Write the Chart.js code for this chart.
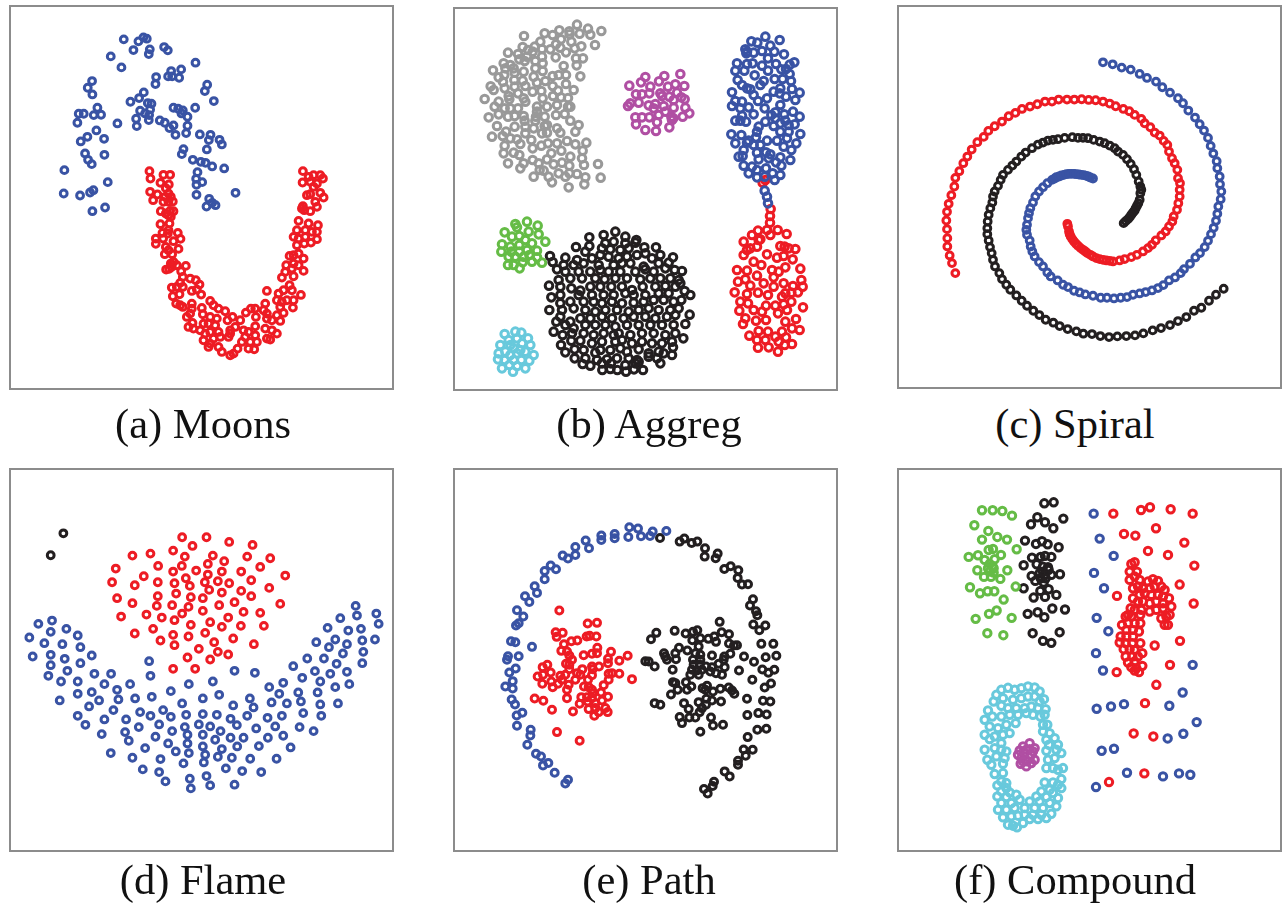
<!DOCTYPE html>
<html>
<head>
<meta charset="utf-8">
<title>Clustering data sets</title>
<script src="https://cdn.jsdelivr.net/npm/chart.js@4"></script>
<style>
  html, body { margin: 0; padding: 0; background: #fff; }
  body { position: relative; width: 1286px; height: 904px; overflow: hidden; }
  canvas { position: absolute; }
  .frame { position: absolute; box-sizing: border-box; border: 2px solid #8c8c8c; }
  .caption {
    position: absolute; width: 400px; margin-left: -200px; text-align: center;
    font-family: "Liberation Serif", serif; font-size: 42.5px; line-height: 50px; color: #111;
  }
</style>
</head>
<body>
<script>
// colours of the clusters
const BLUE = "#3953a4", RED = "#ed1c24", BLACK = "#231f20", GRAY = "#999999";
const PURPLE = "#b04fa3", GREEN = "#65bc46", CYAN = "#68c9dc";

// all points are [x, y], 3x pixels
const moonsBlue = [[371,118],[415,124],[430,112],[440,116],[400,150],[449,148],[446,162],[492,141],[503,151],[332,169],[364,202],[586,188],[513,213],[543,208],[504,229],[516,229],[537,233],[468,231],[466,252],[276,243],[263,263],[277,283],[621,254],[614,273],[641,303],[431,277],[417,294],[391,305],[443,309],[454,311],[292,323],[236,341],[251,341],[281,345],[303,344],[232,368],[352,370],[420,332],[435,340],[450,328],[447,345],[408,356],[446,360],[410,378],[520,323],[534,326],[548,331],[544,340],[562,350],[585,323],[479,361],[494,368],[520,376],[508,384],[526,404],[562,377],[558,399],[599,403],[631,404],[626,420],[658,419],[665,433],[620,448],[289,391],[262,410],[242,424],[312,416],[255,460],[313,464],[264,479],[275,492],[550,447],[545,462],[578,479],[602,485],[616,488],[636,499],[672,505],[193,510],[592,516],[588,536],[606,546],[589,554],[323,546],[280,570],[270,577],[191,580],[240,586],[589,584],[706,578],[627,596],[636,608],[646,615],[619,619],[315,622],[277,633]];
const moonsRed = [[448,513],[451,535],[490,524],[510,524],[481,548],[506,553],[497,564],[450,575],[472,583],[459,600],[505,580],[495,590],[512,590],[490,605],[505,605],[518,604],[482,633],[497,640],[510,632],[520,633],[512,650],[505,645],[481,672],[508,670],[505,690],[487,698],[533,698],[503,700],[467,715],[489,715],[541,716],[520,723],[467,731],[497,740],[535,746],[505,750],[494,762],[516,762],[520,785],[512,790],[530,795],[557,797],[498,808],[507,806],[515,800],[543,813],[548,830],[570,835],[587,840],[540,848],[598,853],[515,862],[530,860],[548,860],[590,868],[575,872],[538,882],[518,888],[603,883],[528,910],[540,915],[548,920],[575,910],[630,902],[605,923],[575,925],[640,915],[655,925],[675,933],[570,940],[608,942],[560,950],[630,950],[650,955],[697,950],[682,960],[577,968],[565,980],[580,985],[610,970],[625,970],[645,975],[720,960],[737,937],[752,925],[705,980],[690,990],[600,990],[615,1000],[630,995],[655,995],[730,990],[745,995],[765,978],[610,1020],[625,1040],[640,1015],[660,1010],[685,1010],[690,1000],[735,1010],[765,1005],[725,1025],[750,1025],[770,1025],[630,1030],[655,1040],[665,1055],[745,1045],[762,1047],[690,1065],[700,1060],[712,1045],[800,1015],[810,1018],[795,985],[815,990],[830,1000],[767,950],[790,930],[795,910],[765,925],[800,940],[830,945],[850,938],[815,960],[840,962],[800,955],[800,872],[835,880],[850,870],[868,855],[875,870],[830,900],[845,905],[860,900],[840,920],[880,900],[878,922],[902,884],[845,832],[858,795],[880,790],[855,815],[875,805],[868,767],[880,765],[895,760],[910,775],[895,795],[880,828],[910,812],[890,735],[880,710],[895,715],[890,690],[895,662],[925,670],[953,675],[915,690],[935,695],[950,695],[915,710],[950,717],[932,727],[912,730],[908,618],[912,630],[930,633],[905,625],[950,620],[945,605],[960,578],[970,592],[920,585],[930,582],[908,513],[925,530],[940,525],[960,525],[968,535],[907,547],[930,545],[950,550],[940,560]];

const aggregGray = [[395,74],[428,86],[468,93],[342,91],[298,100],[236,108],[322,105],[372,94],[373,103],[403,101],[435,104],[347,118],[285,125],[232,141],[378,125],[332,133],[449,135],[408,139],[268,140],[248,150],[290,147],[315,148],[345,143],[388,145],[188,158],[218,162],[262,155],[362,157],[245,170],[290,170],[331,172],[392,175],[413,175],[222,178],[270,183],[238,183],[175,190],[195,195],[355,198],[394,196],[292,190],[270,205],[180,205],[205,205],[143,211],[292,213],[235,215],[160,232],[208,218],[177,225],[265,230],[322,228],[340,225],[405,229],[362,225],[232,242],[207,240],[173,245],[275,248],[300,243],[362,252],[136,259],[145,270],[178,265],[208,260],[240,258],[322,258],[385,270],[262,275],[288,273],[338,272],[218,280],[190,288],[235,295],[323,288],[347,292],[368,294],[118,297],[192,298],[292,295],[160,305],[240,305],[368,320],[148,320],[335,315],[305,320],[275,320],[178,325],[195,325],[218,325],[375,320],[275,335],[160,343],[130,352],[188,350],[208,348],[235,348],[272,350],[298,350],[332,345],[358,342],[270,362],[238,362],[375,362],[155,378],[208,380],[305,375],[240,380],[265,385],[298,378],[335,385],[400,375],[182,395],[172,408],[240,400],[290,400],[305,398],[345,398],[390,395],[140,410],[195,415],[258,420],[215,418],[225,432],[178,437],[288,437],[308,430],[335,430],[365,423],[390,433],[423,428],[262,445],[348,452],[412,452],[175,460],[205,458],[222,465],[318,460],[375,470],[262,480],[305,478],[410,475],[188,490],[235,490],[225,505],[280,490],[325,493],[350,488],[372,497],[416,495],[458,492],[283,510],[295,512],[265,530],[310,530],[340,520],[372,520],[395,522],[420,532],[466,533],[320,547],[370,562],[417,553],[360,530]];
const aggregPurple = [[705,222],[600,231],[657,228],[552,257],[587,247],[641,244],[690,253],[717,258],[615,260],[668,260],[612,280],[645,280],[695,278],[572,283],[590,283],[650,288],[672,290],[708,292],[718,298],[555,310],[548,318],[580,308],[610,316],[630,312],[655,318],[685,300],[720,323],[625,325],[685,323],[660,335],[732,340],[570,352],[590,352],[612,352],[640,345],[678,350],[684,355],[712,350],[572,373],[635,367],[680,360],[672,382],[600,390],[632,393]];
const aggregBlue = [[960,110],[1003,120],[918,124],[936,128],[975,137],[900,148],[905,155],[950,153],[987,155],[925,158],[1016,163],[903,160],[968,175],[1047,187],[1033,194],[875,190],[905,192],[922,190],[950,197],[992,192],[1022,207],[870,212],[897,212],[968,212],[1008,208],[928,226],[1033,222],[877,240],[988,237],[1012,237],[1037,243],[955,243],[890,255],[945,255],[905,265],[915,268],[860,277],[1005,265],[985,275],[1040,267],[1063,278],[925,285],[1003,280],[965,295],[1022,290],[870,303],[890,305],[938,303],[1050,300],[1005,315],[885,325],[910,322],[958,325],[1043,335],[860,318],[990,337],[1017,343],[890,347],[925,343],[978,345],[870,362],[885,362],[902,365],[1063,350],[960,365],[990,355],[1020,362],[940,380],[1005,370],[1030,375],[1048,373],[985,378],[858,403],[888,405],[935,395],[1005,395],[1065,402],[1030,395],[932,412],[1025,415],[910,422],[965,422],[995,422],[870,430],[905,428],[925,435],[945,435],[1053,430],[1015,440],[895,450],[1038,450],[880,470],[892,468],[935,458],[962,457],[975,463],[1005,472],[1035,480],[940,478],[970,475],[895,497],[920,500],[962,505],[992,487],[1008,497],[910,520],[935,510],[982,520],[1005,525],[935,532],[988,540],[958,530],[958,572],[965,590],[968,610]];
const aggregRed = [[960,540],[952,548],[976,627],[974,648],[974,668],[965,690],[938,692],[997,690],[1024,702],[920,705],[945,718],[975,705],[895,725],[940,720],[1005,738],[1018,740],[1030,745],[1050,747],[915,745],[905,750],[935,740],[895,765],[965,763],[1015,768],[995,773],[1042,778],[925,785],[948,795],[875,810],[905,812],[1020,802],[1065,806],[980,810],[1000,815],[935,827],[985,832],[878,845],[1068,840],[900,838],[955,850],[1015,850],[915,857],[1072,860],[985,860],[1043,858],[868,877],[905,882],[938,878],[968,885],[1020,880],[1038,878],[1058,877],[1010,890],[885,905],[908,910],[1038,905],[1015,913],[962,917],[990,917],[1073,922],[1025,930],[882,932],[925,930],[950,935],[998,940],[900,955],[932,962],[962,960],[1052,957],[1020,965],[893,972],[1040,985],[1063,990],[940,993],[968,995],[912,1007],[1010,995],[990,1010],[1022,1012],[935,1020],[960,1020],[1000,1025],[1040,1032],[938,1043],[970,1042],[1018,1035],[998,1055]];
const aggregBlack = [[510,695],[432,712],[475,705],[540,710],[573,720],[432,738],[392,741],[480,730],[505,725],[540,730],[570,728],[597,742],[632,742],[420,755],[470,745],[495,748],[525,750],[550,745],[600,760],[645,765],[683,772],[314,768],[360,773],[395,780],[440,775],[465,765],[490,770],[520,775],[545,770],[575,765],[620,775],[322,786],[355,795],[385,795],[415,790],[460,795],[505,795],[530,790],[555,790],[595,800],[640,790],[670,788],[335,808],[360,815],[400,815],[435,815],[465,810],[490,815],[525,815],[570,815],[600,808],[625,815],[660,805],[688,810],[710,813],[340,840],[375,835],[410,835],[450,835],[478,838],[510,835],[545,835],[585,838],[615,835],[645,835],[675,835],[700,840],[311,857],[345,860],[378,865],[405,872],[435,860],[465,860],[498,860],[530,860],[560,870],[592,860],[630,860],[660,858],[690,860],[705,850],[345,885],[400,885],[440,885],[475,885],[505,885],[540,880],[565,885],[600,885],[640,880],[670,880],[718,873],[735,885],[318,892],[345,910],[375,905],[415,905],[445,905],[470,910],[500,905],[530,910],[565,908],[595,905],[625,900],[655,900],[685,905],[708,900],[312,930],[350,930],[385,925],[420,930],[450,935],[480,930],[515,930],[550,935],[580,930],[610,925],[640,930],[675,930],[700,925],[345,950],[375,965],[405,955],[435,955],[470,950],[500,955],[535,955],[565,950],[600,950],[630,955],[665,950],[690,945],[733,944],[333,965],[360,975],[385,985],[420,975],[450,975],[480,975],[510,980],[545,975],[580,975],[615,975],[650,975],[685,975],[720,972],[325,995],[352,1005],[380,1000],[415,1000],[445,1005],[475,1000],[505,1005],[520,1000],[555,1005],[590,1000],[625,1000],[660,1005],[690,1000],[714,1015],[378,1022],[405,1022],[440,1030],[470,1025],[510,1025],[530,1020],[560,1030],[590,1025],[620,1030],[650,1030],[680,1025],[347,1035],[360,1057],[388,1048],[415,1050],[450,1058],[465,1050],[495,1050],[525,1045],[545,1055],[580,1048],[610,1060],[640,1055],[655,1060],[683,1042],[680,1065],[388,1075],[420,1075],[455,1080],[485,1078],[515,1075],[550,1075],[575,1080],[610,1070],[635,1075],[412,1092],[435,1097],[470,1090],[497,1090],[540,1095],[570,1090],[580,1085],[645,1090],[471,1110],[495,1107],[516,1110],[542,1115],[566,1108],[593,1110]];
const aggregGreen = [[245,665],[210,672],[215,682],[277,677],[178,697],[250,695],[222,708],[200,710],[280,703],[240,720],[300,725],[170,733],[195,740],[222,735],[260,730],[168,755],[198,755],[222,755],[245,750],[275,752],[190,770],[210,770],[235,770],[252,765],[275,772],[188,795],[205,795],[232,787],[260,785],[290,788],[223,805]];
const aggregCyan = [[210,995],[178,1002],[228,998],[248,1015],[190,1020],[215,1015],[165,1035],[195,1035],[230,1030],[255,1035],[205,1045],[225,1050],[160,1060],[180,1055],[240,1055],[265,1065],[195,1065],[215,1060],[158,1078],[178,1080],[205,1080],[228,1080],[252,1082],[192,1095],[170,1105],[240,1105],[215,1098],[203,1115]];

const spiralBlue = [[650,187],[679,193],[706,203],[733,209],[760,222],[782,234],[809,245],[828,262],[851,278],[875,295],[890,310],[906,332],[926,353],[940,373],[953,392],[965,414],[973,438],[981,461],[991,484],[993,505],[1000,530],[1001,553],[1005,575],[1003,598],[996,620],[993,642],[989,663],[982,684],[974,703],[965,723],[955,742],[941,760],[927,773],[911,792],[893,808],[883,820],[866,833],[848,842],[831,856],[815,865],[797,872],[778,877],[760,881],[740,885],[722,892],[703,894],[683,896],[662,894],[643,894],[620,888],[597,884],[580,878],[563,873],[545,862],[530,855],[514,842],[493,830],[483,818],[470,800],[458,787],[445,770],[438,755],[433,740],[430,722],[422,705],[420,690],[422,675],[425,655],[428,640],[432,625],[440,608],[447,590],[458,575],[470,562],[483,550],[497,540],[505,536],[510,532],[518,530],[525,527],[533,525],[540,523],[548,522],[555,522],[563,522],[570,523],[578,524],[585,525],[593,526],[600,528],[606,530],[612,533],[620,536]];
const spiralRed = [[207,820],[197,790],[190,767],[183,740],[183,715],[182,688],[180,662],[182,636],[187,612],[195,586],[204,560],[207,534],[219,514],[231,490],[243,470],[256,449],[273,427],[292,411],[306,393],[325,379],[347,365],[367,349],[387,339],[407,327],[431,320],[453,313],[476,305],[497,305],[517,299],[542,299],[564,299],[586,298],[607,300],[628,301],[650,305],[670,311],[688,319],[711,327],[729,334],[745,345],[765,357],[775,370],[792,382],[805,398],[820,407],[832,423],[843,435],[848,455],[857,475],[865,490],[873,510],[875,535],[881,550],[880,570],[880,590],[876,610],[872,630],[862,650],[858,665],[848,680],[838,695],[825,707],[808,722],[797,735],[785,745],[770,755],[752,765],[735,772],[715,778],[700,782],[680,785],[670,783],[660,782],[650,780],[640,778],[630,775],[620,770],[612,765],[603,760],[597,755],[590,750],[583,745],[575,738],[569,732],[563,725],[558,718],[553,710],[550,703],[548,695],[545,680],[543,672]];
const spiralBlack = [[1012,867],[989,885],[968,903],[945,924],[923,933],[900,952],[875,964],[851,976],[824,985],[799,992],[771,1001],[746,1007],[720,1009],[693,1010],[668,1012],[642,1009],[617,1003],[591,1002],[570,995],[544,988],[520,979],[501,969],[478,960],[459,946],[441,933],[422,918],[406,903],[390,887],[372,870],[360,855],[347,838],[339,820],[326,800],[320,780],[316,760],[311,742],[307,722],[303,703],[303,685],[304,665],[307,645],[312,625],[318,608],[320,590],[325,575],[335,558],[343,540],[350,525],[365,510],[378,497],[390,485],[405,470],[418,458],[437,445],[455,434],[470,428],[485,422],[500,420],[515,418],[535,414],[558,412],[575,414],[590,414],[605,415],[622,420],[640,425],[655,430],[670,437],[685,445],[695,455],[710,465],[722,478],[733,492],[743,508],[750,525],[757,545],[762,560],[765,570],[762,580],[760,600],[756,610],[752,618],[748,625],[745,632],[740,638],[735,645],[730,652],[725,658],[718,664],[712,670]];

const flameRed = [[546,232],[619,232],[687,246],[757,255],[577,258],[519,272],[451,281],[397,287],[554,290],[638,287],[741,290],[810,295],[672,304],[474,318],[545,318],[623,312],[780,321],[347,326],[519,335],[588,332],[665,335],[723,335],[623,344],[431,349],[855,347],[557,355],[753,361],[336,367],[404,376],[473,367],[523,370],[614,367],[653,364],[687,370],[569,378],[807,384],[627,390],[723,393],[528,401],[665,398],[473,409],[572,412],[608,415],[753,409],[351,415],[397,430],[516,436],[470,438],[565,441],[657,436],[703,427],[840,432],[608,453],[730,456],[780,459],[546,461],[363,470],[439,464],[485,473],[523,481],[684,473],[630,487],[572,495],[665,501],[722,498],[791,498],[459,507],[404,521],[519,525],[565,530],[615,519],[699,536],[481,542],[523,556],[642,547],[761,553],[596,567],[653,576],[684,584],[562,593],[630,599],[519,627],[585,627]];
const flameBlue = [[156,482],[115,492],[199,507],[152,516],[233,527],[88,533],[133,550],[187,553],[241,562],[152,585],[98,590],[194,597],[275,587],[241,610],[152,616],[202,633],[145,648],[283,642],[333,642],[183,665],[233,665],[313,673],[390,673],[275,697],[351,690],[233,702],[179,722],[297,722],[355,719],[405,716],[455,711],[267,740],[340,751],[233,768],[313,779],[378,779],[420,757],[451,768],[256,795],[305,823],[375,817],[416,802],[477,794],[386,843],[466,831],[332,880],[435,865],[397,894],[428,929],[481,898],[477,937],[496,965],[504,851],[527,875],[550,911],[569,957],[572,986],[489,751],[512,771],[512,694],[447,604],[451,648],[566,673],[638,665],[703,633],[764,639],[546,731],[608,716],[657,705],[558,765],[608,763],[650,765],[699,737],[749,716],[760,743],[691,777],[741,768],[554,802],[596,794],[630,800],[710,796],[516,814],[562,825],[608,825],[661,814],[645,840],[691,834],[730,834],[768,806],[802,774],[845,768],[825,800],[803,834],[849,828],[562,851],[608,860],[665,868],[711,860],[776,859],[566,880],[615,885],[653,891],[695,894],[750,897],[611,908],[677,926],[726,934],[783,937],[619,949],[630,977],[703,975],[829,897],[871,863],[898,802],[940,814],[963,768],[909,760],[860,731],[814,728],[902,725],[837,702],[807,682],[849,669],[894,698],[906,654],[952,698],[960,734],[1013,731],[960,665],[944,634],[879,619],[921,596],[971,596],[1009,612],[990,642],[1040,636],[1005,682],[1047,673],[1086,610],[1089,576],[1028,581],[986,562],[948,547],[1005,539],[1040,553],[1086,542],[1124,539],[982,504],[1044,512],[1082,507],[1020,475],[1070,467],[1066,438],[1128,461],[1135,492]];
const flameBlack = [[190,220],[152,286]];

const pathBlue = [[663,213],[622,215],[578,206],[552,202],[614,228],[587,229],[549,231],[508,222],[508,235],[468,227],[468,240],[421,242],[431,265],[390,261],[390,285],[352,287],[368,296],[316,317],[298,333],[332,328],[298,358],[268,379],[275,399],[239,409],[252,426],[215,451],[234,470],[220,490],[212,497],[197,544],[210,547],[260,561],[188,589],[185,600],[220,589],[192,638],[211,626],[202,664],[180,680],[202,686],[199,719],[209,734],[231,759],[214,767],[215,798],[256,810],[255,827],[246,855],[272,882],[287,890],[309,910],[293,917],[328,939],[368,960],[360,971]];
const pathRed = [[342,452],[427,491],[455,489],[331,517],[352,519],[334,531],[424,530],[433,528],[453,530],[378,544],[396,542],[356,553],[456,564],[348,573],[365,575],[372,587],[415,586],[440,582],[455,580],[497,576],[547,588],[488,597],[522,603],[380,600],[362,612],[372,615],[488,610],[292,622],[306,615],[440,620],[461,620],[372,628],[411,628],[442,628],[277,650],[293,645],[316,638],[345,648],[360,645],[395,640],[405,645],[490,642],[500,640],[522,642],[560,658],[440,646],[318,665],[350,660],[390,660],[428,660],[490,660],[291,672],[338,672],[322,682],[370,675],[365,690],[416,680],[430,682],[475,676],[440,690],[443,700],[467,698],[365,715],[268,716],[294,723],[408,712],[425,712],[440,715],[488,711],[320,750],[383,755],[403,732],[427,725],[450,730],[470,722],[430,748],[450,745],[480,745],[447,768],[460,757],[487,757],[335,817],[403,843]];
const pathBlack = [[644,234],[717,236],[703,245],[739,249],[756,245],[779,265],[817,281],[778,290],[811,295],[856,319],[837,327],[879,331],[877,354],[890,374],[908,373],[923,418],[914,437],[932,454],[936,466],[924,494],[960,497],[942,511],[948,552],[984,552],[993,588],[961,592],[926,606],[896,590],[881,632],[951,629],[969,639],[987,630],[921,660],[977,671],[958,683],[953,723],[975,725],[905,717],[906,766],[939,760],[964,764],[936,810],[963,807],[907,832],[922,870],[895,869],[901,888],[878,903],[878,915],[838,935],[853,950],[806,966],[802,979],[776,988],[787,1001],[823,486],[688,513],[721,521],[633,519],[617,538],[743,516],[756,511],[829,517],[851,523],[765,535],[741,541],[789,537],[807,530],[812,546],[851,551],[866,557],[875,556],[760,560],[701,564],[726,572],[656,580],[690,580],[660,590],[750,580],[765,585],[800,587],[855,582],[837,590],[665,600],[692,598],[743,600],[765,600],[835,600],[600,604],[610,605],[628,620],[820,612],[745,615],[763,615],[782,620],[800,622],[838,622],[682,630],[740,630],[755,632],[770,630],[795,635],[812,640],[830,645],[735,645],[760,645],[683,667],[690,670],[722,667],[738,680],[772,685],[785,678],[697,690],[725,690],[780,690],[803,695],[825,687],[850,683],[860,692],[867,702],[677,704],[716,730],[760,727],[783,717],[800,722],[827,725],[782,735],[628,730],[645,735],[730,748],[770,745],[763,757],[703,772],[732,773],[750,773],[797,773],[710,790],[803,797],[833,795],[765,816]];

const compoundGreen = [[287,151],[319,151],[348,153],[377,167],[264,196],[306,213],[333,231],[287,239],[362,239],[391,268],[307,270],[320,267],[247,291],[275,286],[344,285],[295,300],[325,298],[310,312],[318,318],[305,325],[322,325],[273,331],[363,331],[310,335],[322,338],[293,351],[314,351],[342,357],[251,382],[388,380],[281,400],[304,394],[324,394],[352,419],[331,452],[308,462],[268,477],[376,474],[303,520],[351,526]];
const compoundBlack = [[474,130],[502,127],[453,172],[531,176],[434,193],[476,187],[501,205],[416,242],[467,244],[449,252],[484,253],[517,262],[437,293],[463,291],[476,288],[495,291],[412,316],[451,313],[470,320],[485,322],[470,335],[487,330],[460,340],[475,345],[495,345],[436,348],[521,343],[463,355],[478,355],[447,363],[472,368],[412,385],[462,393],[487,388],[510,405],[442,413],[476,411],[498,446],[536,449],[424,462],[454,457],[474,472],[520,517],[439,520],[470,543],[495,549]];
const compoundBlue = [[622,161],[640,236],[682,288],[623,339],[653,385],[631,474],[666,514],[629,580],[650,632],[919,615],[889,698],[849,738],[713,733],[674,740],[631,747],[931,787],[891,822],[844,836],[683,867],[646,873],[722,939],[878,941],[912,945],[830,950],[629,982]];
const compoundRed = [[681,161],[764,150],[791,142],[853,148],[919,161],[809,205],[713,222],[747,227],[894,248],[785,273],[845,285],[924,317],[880,374],[692,408],[922,431],[881,543],[805,557],[851,615],[691,637],[810,675],[776,730],[742,821],[801,830],[774,941],[668,967],[745,307],[735,312],[752,335],[730,335],[745,350],[730,360],[760,360],[800,358],[815,363],[785,365],[740,385],[755,380],[770,385],[790,385],[805,380],[825,380],[835,390],[740,415],[760,405],[775,400],[795,405],[815,405],[830,410],[848,415],[733,445],[755,425],[770,425],[790,430],[810,425],[830,430],[855,440],[725,465],[745,450],[765,450],[790,455],[810,450],[830,445],[850,465],[718,470],[735,470],[762,465],[825,475],[840,470],[707,495],[725,490],[745,490],[762,490],[835,495],[845,495],[720,510],[740,510],[758,515],[703,530],[720,530],[740,530],[762,550],[700,548],[718,550],[738,550],[712,568],[730,568],[745,570],[768,580],[718,590],[738,590],[755,590],[725,608],[745,605],[768,618],[735,622],[750,625],[758,637],[745,632]];
const compoundCyan = [[365,684],[345,690],[385,690],[405,685],[425,680],[445,683],[460,695],[473,718],[330,705],[350,715],[380,720],[405,715],[425,710],[445,710],[460,725],[478,748],[322,725],[345,738],[365,745],[390,745],[415,745],[435,740],[455,745],[475,765],[305,752],[295,780],[318,770],[345,770],[370,765],[395,765],[420,760],[440,765],[462,770],[470,795],[483,795],[310,800],[335,805],[360,795],[388,790],[295,825],[325,830],[350,825],[370,820],[310,838],[345,850],[470,815],[490,820],[480,840],[505,835],[488,855],[515,855],[295,870],[325,865],[345,870],[360,875],[480,873],[510,870],[525,880],[303,900],[330,890],[355,895],[485,900],[505,895],[315,915],[350,912],[480,925],[500,925],[530,925],[515,930],[325,943],[350,940],[345,965],[360,970],[475,968],[500,968],[525,958],[515,975],[333,977],[360,985],[490,990],[525,985],[345,995],[370,998],[465,995],[500,1000],[333,1010],[360,1012],[390,1005],[450,1010],[480,1012],[515,1015],[345,1030],[375,1030],[400,1020],[430,1025],[460,1025],[490,1030],[335,1050],[360,1050],[385,1045],[415,1045],[445,1045],[470,1045],[510,1040],[350,1073],[375,1070],[395,1068],[415,1065],[440,1065],[465,1065],[495,1062],[365,1095],[380,1098],[392,1103],[410,1090],[430,1078],[455,1078],[480,1075]];
const compoundPurple = [[430,850],[410,860],[445,865],[395,885],[420,870],[435,885],[405,895],[445,900],[420,905],[403,912],[420,920],[435,910],[415,880],[430,868],[400,872],[440,875],[410,905]];

// one entry per panel: page offset of the frame and its range in 3x pixels
const panels = [
  { caption: "(a) Moons", left: 10, top: 6, w: 383, h: 383, xr: [30, 1178], yr: [18, 1166], cx: 203, cy: 425, ring: [3.4, 3],
    series: [[moonsBlue, BLUE], [moonsRed, RED]] },
  { caption: "(b) Aggreg", left: 453.7, top: 8, w: 383, h: 382, xr: [26, 1175], yr: [24, 1170], cx: 649, cy: 425, ring: [3.8, 3],
    series: [[aggregGray, GRAY], [aggregPurple, PURPLE], [aggregBlue, BLUE], [aggregRed, RED], [aggregBlack, BLACK], [aggregGreen, GREEN], [aggregCyan, CYAN]] },
  { caption: "(c) Spiral", left: 897.7, top: 6, w: 383, h: 382, xr: [35, 1184], yr: [18, 1165], cx: 1075, cy: 425, ring: [3.4, 3],
    series: [[spiralBlue, BLUE], [spiralRed, RED], [spiralBlack, BLACK]] },
  { caption: "(d) Flame", left: 10, top: 469, w: 383, h: 382, xr: [30, 1178], yr: [27, 1174], cx: 203, cy: 881, ring: [3.4, 3],
    series: [[flameRed, RED], [flameBlue, BLUE], [flameBlack, BLACK]] },
  { caption: "(e) Path", left: 453.7, top: 469, w: 383, h: 382, xr: [26, 1175], yr: [27, 1174], cx: 649, cy: 881, ring: [3.5, 3],
    series: [[pathBlue, BLUE], [pathRed, RED], [pathBlack, BLACK]] },
  { caption: "(f) Compound", left: 897.7, top: 469, w: 383, h: 382, xr: [35, 1184], yr: [27, 1174], cx: 1075, cy: 881, ring: [3.7, 3],
    series: [[compoundGreen, GREEN], [compoundBlack, BLACK], [compoundBlue, BLUE], [compoundRed, RED], [compoundCyan, CYAN], [compoundPurple, PURPLE]] }
];

panels.forEach((p) => {
  const canvas = document.createElement("canvas");
  canvas.width = p.w;
  canvas.height = p.h;
  canvas.style.left = p.left + "px";
  canvas.style.top = p.top + "px";
  document.body.appendChild(canvas);

  new Chart(canvas.getContext("2d"), {
    type: "scatter",
    data: {
      datasets: p.series.map(([points, colour]) => ({
        data: points.map(([x, y]) => ({ x, y })),
        borderColor: colour,
        backgroundColor: "transparent",
        borderWidth: p.ring[1],
        pointRadius: p.ring[0],
      })),
    },
    options: {
      responsive: false,
      animation: false,
      layout: { padding: 0, autoPadding: false },
      plugins: { legend: { display: false }, tooltip: { enabled: false } },
      scales: {
        x: { type: "linear", display: false, min: p.xr[0], max: p.xr[1] },
        y: { type: "linear", display: false, min: p.yr[0], max: p.yr[1], reverse: true },
      },
    },
  });

  // the frame line sits centred on the panel edge
  const frame = document.createElement("div");
  frame.className = "frame";
  frame.style.cssText = `left:${p.left - 1}px;top:${p.top - 1}px;width:${p.w + 2}px;height:${p.h + 2}px`;
  document.body.appendChild(frame);

  const label = document.createElement("div");
  label.className = "caption";
  label.textContent = p.caption;
  label.style.left = p.cx + "px";
  label.style.top = p.cy - 26 + "px";
  document.body.appendChild(label);
});
</script>
</body>
</html>
